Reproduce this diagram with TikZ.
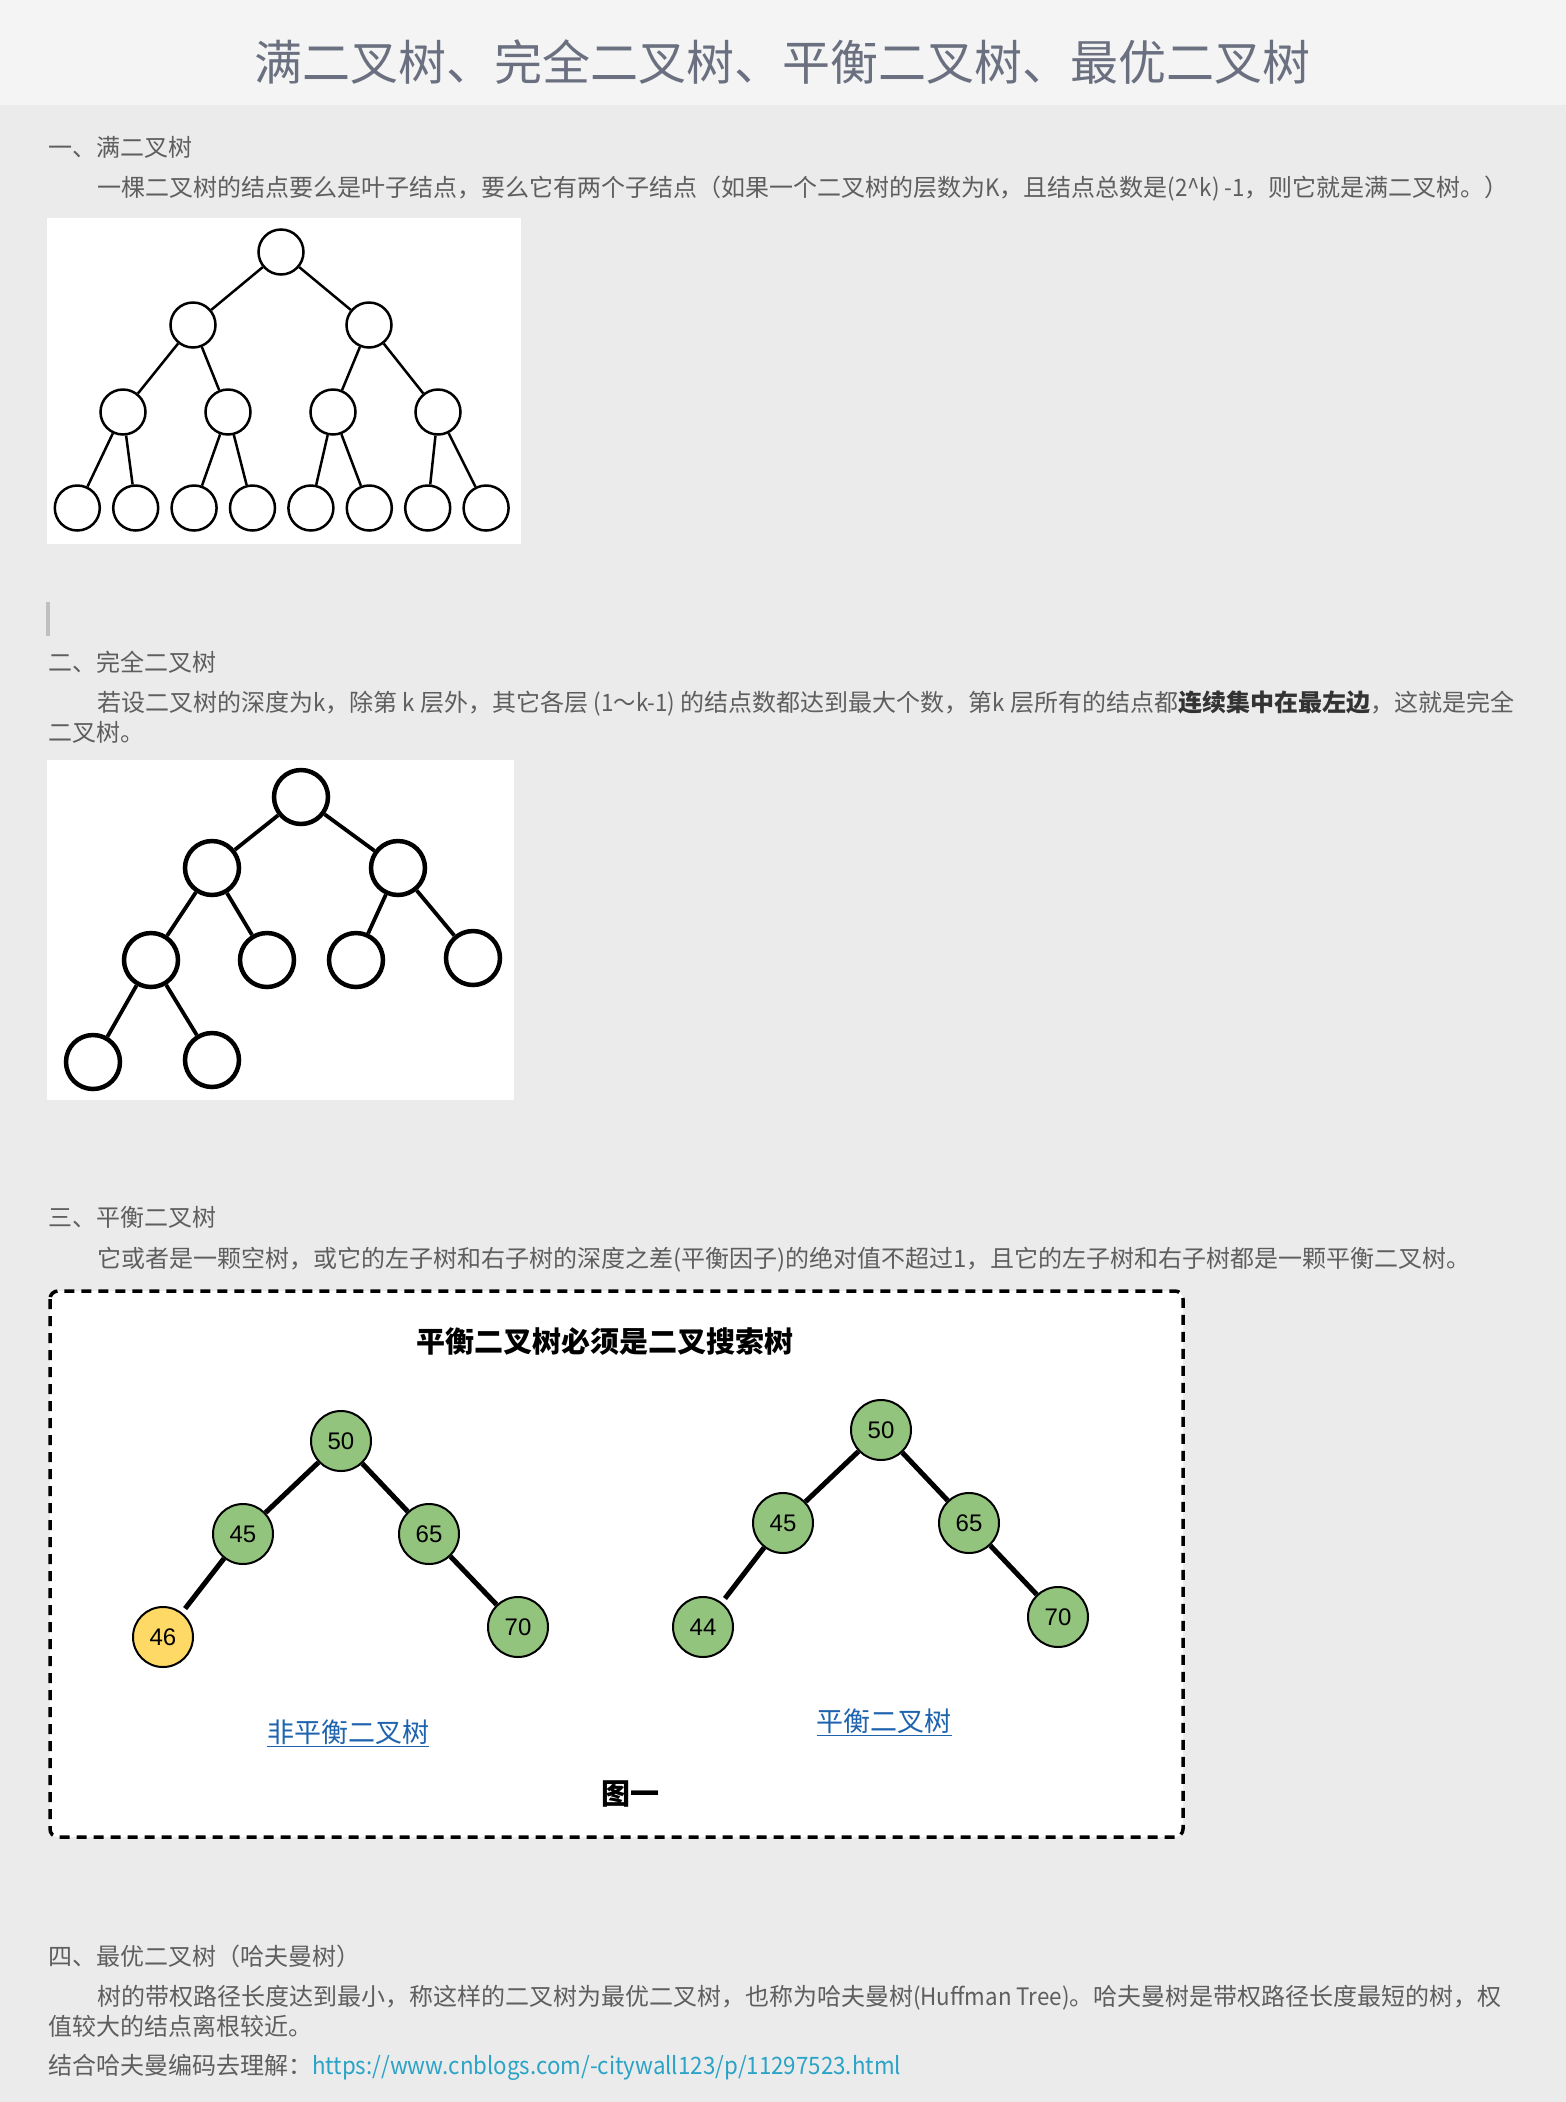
\documentclass[tikz,border=0pt]{standalone}
\usepackage{fontspec}
\setmainfont{Noto Sans CJK SC}
\newfontfamily\numfont{Liberation Sans}

\definecolor{pagebg}{HTML}{EBEBEB}
\definecolor{bandbg}{HTML}{F4F4F4}
\definecolor{titlegray}{HTML}{6B7080}
\definecolor{bodygray}{HTML}{5E5E5E}
\definecolor{darktext}{HTML}{333333}
\definecolor{linkblue}{HTML}{2AA3C6}
\definecolor{labelblue}{HTML}{1E63AE}
\definecolor{nodegreen}{HTML}{93C47D}
\definecolor{nodeyellow}{HTML}{FFD966}

\newcommand\narrow[1]{\scalebox{0.93}[1]{#1}}

\tikzset{
  body text/.style={anchor=west,inner sep=0pt,text=bodygray,font=\fontsize{24}{28}\selectfont},
  picbox/.style={fill=white,draw=none},
  tnode/.style={circle,draw=black,fill=white,line width=2.5pt,minimum size=45pt,inner sep=0pt},
  cnode/.style={circle,draw=black,fill=white,line width=4.5pt,minimum size=54pt,inner sep=0pt},
  gnode/.style={circle,draw=black,fill=nodegreen,line width=2pt,minimum size=60pt,inner sep=0pt,
    font=\numfont\fontsize{24}{24}\selectfont},
  tedge/.style={line width=2.5pt},
  cedge/.style={line width=3.8pt},
  gedge/.style={line width=5pt},
  tree label/.style={text=labelblue,inner sep=0pt,font=\fontsize{27}{27}\selectfont},
}

\begin{document}
\begin{tikzpicture}[x=1pt,y=-1pt]
  \useasboundingbox (0,0) rectangle (1566,2102);
  \fill[pagebg] (0,0) rectangle (1566,2102);
  \fill[bandbg] (0,0) rectangle (1566,105);

  % title
  \node[text=titlegray,inner sep=0pt,font=\fontsize{48}{48}\selectfont] (title) at (782,62)
    {满二叉树、完全二叉树、平衡二叉树、最优二叉树};

  % section 1
  \node[body text] (head1) at (48,147) {一、满二叉树};
  \node[body text] (par1) at (97,189)
    {一棵二叉树的结点要么是叶子结点，要么它有两个子结点（如果一个二叉树的层数为\narrow{K}，且结点总数是\narrow{(2\textasciicircum k) -1}，则它就是满二叉树。）};
  \fill[picbox] (47,218) rectangle (521,544);
  \node[tnode] (a1) at (281,252) {};
  \node[tnode] (a2) at (193,325) {};
  \node[tnode] (a3) at (369,325) {};
  \foreach \i/\x in {4/123,5/228,6/333,7/438}
    \node[tnode] (a\i) at (\x,412) {};
  \foreach \i [count=\k from 8] in {0,...,7}
    \node[tnode] (a\k) at ({77.3+58.4*\i},508) {};
  \foreach \k in {2,...,15}{
    \pgfmathtruncatemacro\p{\k/2}
    \draw[tedge] (a\p) -- (a\k);
  }

  \fill[black!25] (46,602) rectangle (50,636);

  % section 2
  \node[body text] (head2) at (48,662) {二、完全二叉树};
  \node[body text] (par2a) at (97,704)
    {若设二叉树的深度为\narrow{k}，除第 \narrow{k} 层外，其它各层 \narrow{(1～k-1)} 的结点数都达到最大个数，第\narrow{k} 层所有的结点都\textcolor{darktext}{\textbf{连续集中在最左边}}，这就是完全};
  \node[body text] (par2b) at (48,732) {二叉树。};
  \fill[picbox] (47,760) rectangle (514,1100);
  \node[cnode] (b1) at (301,797) {};
  \node[cnode] (b2) at (212,868) {};
  \node[cnode] (b3) at (398,868) {};
  \node[cnode] (b4) at (151,960) {};
  \node[cnode] (b5) at (267,960) {};
  \node[cnode] (b6) at (356,960) {};
  \node[cnode] (b7) at (473,958) {};
  \node[cnode] (b8) at (93,1062) {};
  \node[cnode] (b9) at (212,1060) {};
  \foreach \k in {2,...,9}{
    \pgfmathtruncatemacro\p{\k/2}
    \draw[cedge] (b\p) -- (b\k);
  }

  % section 3
  \node[body text] (head3) at (48,1217) {三、平衡二叉树};
  \node[body text] (par3) at (97,1260)
    {它或者是一颗空树，或它的左子树和右子树的深度之差(平衡因子)的绝对值不超过1，且它的左子树和右子树都是一颗平衡二叉树。};
  \draw[fill=white,line width=3.5pt,dash pattern=on 10pt off 7pt,rounded corners=8pt]
    (50,1291) rectangle (1183,1837);
  \node[inner sep=0pt,font=\bfseries\fontsize{29}{29}\selectfont] (boxtitle) at (605,1342)
    {平衡二叉树必须是二叉搜索树};

  % not balanced
  \node[gnode] (l50) at (341,1441) {50};
  \node[gnode] (l45) at (243,1534) {45};
  \node[gnode] (l65) at (429,1534) {65};
  \node[gnode,fill=nodeyellow] (l46) at (163,1637) {46};
  \node[gnode] (l70) at (518,1627) {70};
  \draw[gedge] (l50) -- (l45);
  \draw[gedge] (l50) -- (l65);
  \draw[gedge,shorten >=5pt] (l45) -- (l46);
  \draw[gedge] (l65) -- (l70);
  \node[tree label] (lname) at (348,1733) {\underline{非平衡二叉树}};

  % balanced
  \node[gnode] (r50) at (881,1430) {50};
  \node[gnode] (r45) at (783,1523) {45};
  \node[gnode] (r65) at (969,1523) {65};
  \node[gnode] (r44) at (703,1627) {44};
  \node[gnode] (r70) at (1058,1617) {70};
  \draw[gedge] (r50) -- (r45);
  \draw[gedge] (r50) -- (r65);
  \draw[gedge,shorten >=5pt] (r45) -- (r44);
  \draw[gedge] (r65) -- (r70);
  \node[tree label] (rname) at (884,1722) {\underline{平衡二叉树}};

  \node[inner sep=0pt,font=\bfseries\fontsize{29}{29}\selectfont] (fig) at (630,1794) {图一};

  % section 4
  \node[body text] (head4) at (48,1956) {四、最优二叉树（哈夫曼树）};
  \node[body text] (par4a) at (97,1998)
    {树的带权路径长度达到最小，称这样的二叉树为最优二叉树，也称为哈夫曼树\narrow{(Huffman Tree)}。哈夫曼树是带权路径长度最短的树，权};
  \node[body text] (par4b) at (48,2026) {值较大的结点离根较近。};
  \node[body text] (par5) at (48,2067)
    {结合哈夫曼编码去理解：\textcolor{linkblue}{\narrow{https://www.cnblogs.com/-citywall123/p/11297523.html}}};
\end{tikzpicture}
\end{document}
